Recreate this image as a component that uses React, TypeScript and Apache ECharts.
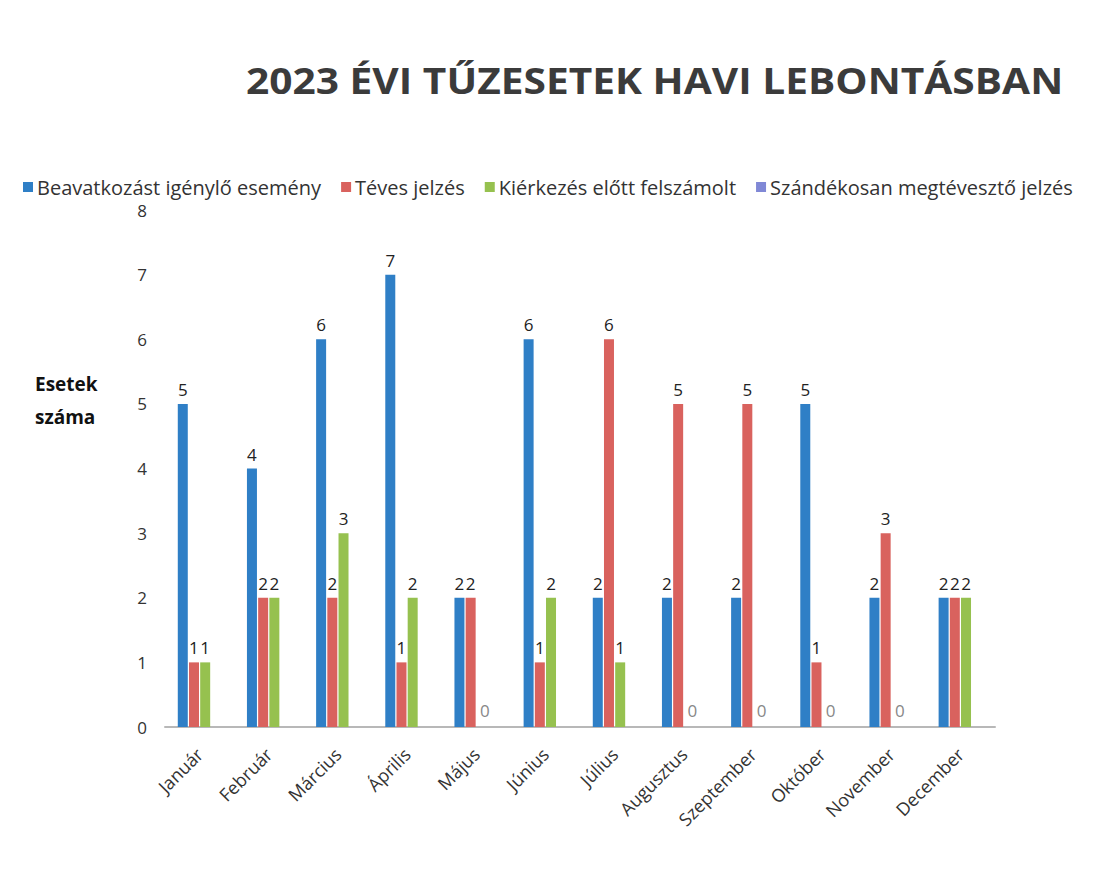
import React, { useEffect, useRef } from "react";
import * as echarts from "echarts";

const months = ["Január", "Február", "Március", "Április", "Május", "Június", "Július", "Augusztus", "Szeptember", "Október", "November", "December"];
const seriesNames = ["Beavatkozást igénylő esemény", "Téves jelzés", "Kiérkezés előtt felszámolt", "Szándékosan megtévesztő jelzés"];
const beavatkozas = [5, 4, 6, 7, 2, 6, 2, 2, 2, 5, 2, 2];
const teves = [1, 2, 2, 1, 2, 1, 6, 5, 5, 1, 3, 2];
const kierkezes = [1, 2, 3, 2, 0, 2, 1, 0, 0, 0, 0, 2];
const szandekos: (number | null)[] = [null, null, null, null, null, null, null, null, null, null, null, null];
const yTicks = [0, 1, 2, 3, 4, 5, 6, 7, 8];

const colors = ["#2f7fc6", "#d9625e", "#96c14f", "#8088d6"];
const FONT = "Open Sans";

export default function App() {
  const ref = useRef<HTMLDivElement>(null);
  useEffect(() => {
    if (!ref.current) return;
    const chart = echarts.init(ref.current, undefined, { renderer: "svg" });
    const labelBase = { show: true, position: "top" as const, fontSize: 17, color: "#222", fontFamily: FONT, distance: 6 };
    const mk = (arr: (number | null)[]) =>
      arr.map((v) =>
        v === 0
          ? { value: v, label: { color: "#888", fontSize: 17, offset: [3, -2] } }
          : v
      );
    chart.setOption({
      animation: false,
      color: colors,
      textStyle: { fontFamily: FONT },
      legend: {
        data: seriesNames,
        left: 18,
        top: 172,
        itemWidth: 10,
        itemHeight: 10,
        itemGap: 20,
        icon: "rect",
        textStyle: { fontSize: 20, color: "#333", fontFamily: FONT, padding: [0, 0, 0, -1] },
      },
      grid: { left: 165, right: 121, top: 210, bottom: 143, containLabel: false },
      xAxis: {
        type: "category",
        data: months,
        axisLine: { lineStyle: { color: "#b8b8b8", width: 2 } },
        axisTick: { show: false },
        axisLabel: { rotate: 45, fontSize: 18, color: "#333", margin: 24, interval: 0, fontFamily: FONT },
      },
      yAxis: {
        type: "value",
        min: yTicks[0],
        max: yTicks[yTicks.length - 1],
        interval: 1,
        axisLine: { show: false },
        axisTick: { show: false },
        splitLine: { show: false },
        axisLabel: { fontSize: 17, color: "#333", margin: 18, fontFamily: FONT },
      },
      graphic: [
        {
          type: "text",
          left: 246,
          top: 62,
          scaleX: 1.13,
          style: { text: "2023 ÉVI TŰZESETEK HAVI LEBONTÁSBAN", fontSize: 36, fontWeight: "bold", fill: "#3b3b3b", fontFamily: FONT },
        },
        {
          type: "text",
          left: 35,
          top: 367,
          style: { text: "Esetek\nszáma", fontSize: 19, fontWeight: "bold", fill: "#111", lineHeight: 33, fontFamily: FONT },
        },
      ],
      series: [
        { name: seriesNames[0], type: "bar", data: mk(beavatkozas), barWidth: 10, barGap: "12%", label: labelBase },
        { name: seriesNames[1], type: "bar", data: mk(teves), barWidth: 10, barGap: "12%", label: labelBase },
        { name: seriesNames[2], type: "bar", data: mk(kierkezes), barWidth: 10, barGap: "12%", label: labelBase },
        { name: seriesNames[3], type: "bar", data: szandekos, barWidth: 10, barGap: "12%", label: labelBase },
      ],
    });
    return () => chart.dispose();
  }, []);
  return <div ref={ref} style={{ position: "fixed", left: 0, top: 0, width: 1116, height: 870, background: "#fff" }} />;
}
